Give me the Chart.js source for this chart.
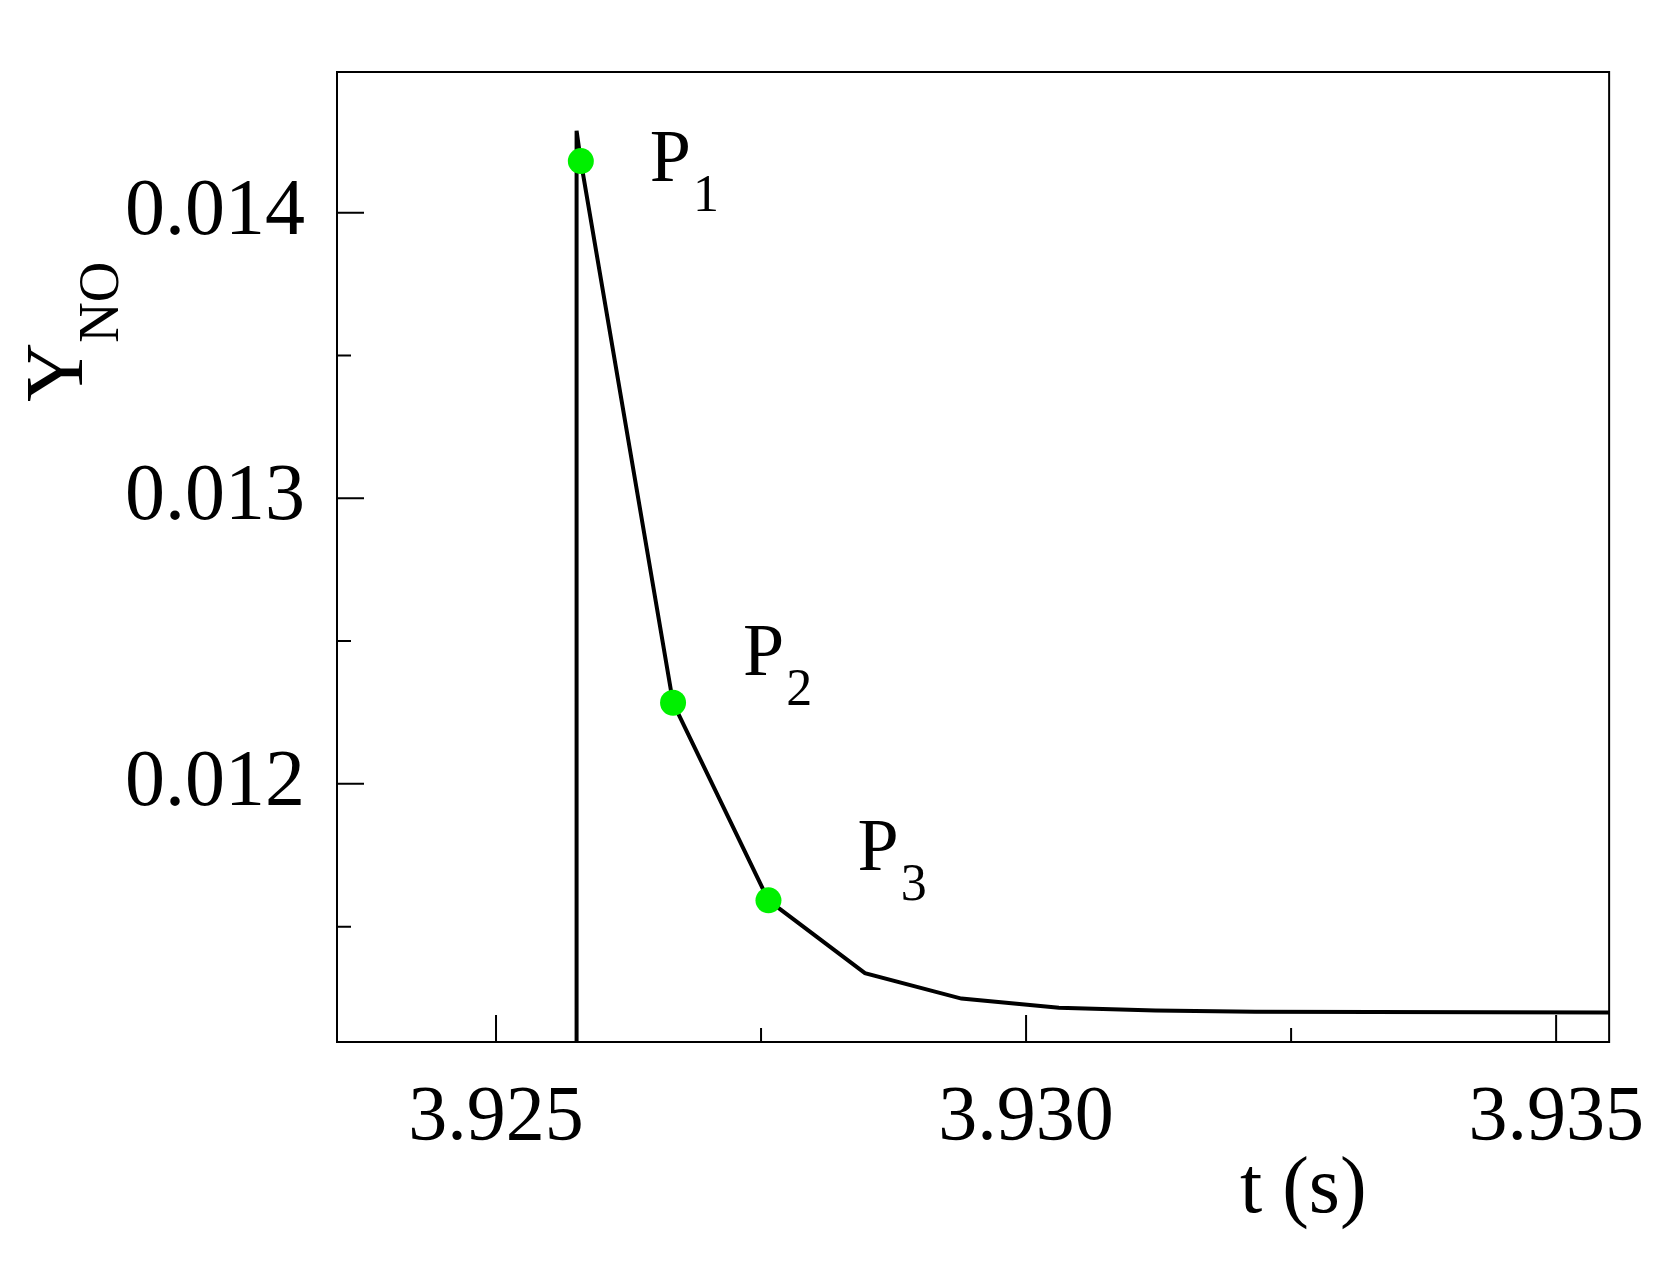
<!DOCTYPE html>
<html>
<head>
<meta charset="utf-8">
<script src="https://cdn.jsdelivr.net/npm/chart.js@4.4.1/dist/chart.umd.min.js"></script>
<style>
  html, body { margin: 0; padding: 0; background: #fff; }
  #wrap { width: 1668px; height: 1263px; }
  .pre { font-family: "Liberation Serif"; position: absolute; left: -999px; }
</style>
</head>
<body>
<span class="pre">P0123.</span>
<div id="wrap"><canvas id="ynoChart"></canvas></div>
<script>
// curve
const tValues = [3.92576, 3.92576, 3.9258, 3.92667, 3.92757, 3.92848, 3.92939, 3.93031, 3.93122, 3.93216, 3.9355];
const ynoValues = [0.0110, 0.014287, 0.014181, 0.012284, 0.011592, 0.011337, 0.011248, 0.011216, 0.011206, 0.011202, 0.011199];

// marked points
const markT = [3.9258, 3.92667, 3.92757];
const markY = [0.014181, 0.012284, 0.011592];
const markNames = ['1', '2', '3'];
const markLabelT = [3.92645, 3.92733, 3.92841];
const markLabelY = [0.01411, 0.012383, 0.011699];

const xTicks = [3.925, 3.930, 3.935];
const xMinor = [3.9275, 3.9325];
const yTicks = [0.012, 0.013, 0.014];
const yMinor = [0.0115, 0.0125, 0.0135];

const serif = "'Liberation Serif', Tinos, 'Times New Roman', Times, serif";

const framePlugin = {
  id: 'frame',
  afterDraw(chart) {
    const { ctx, chartArea: a, scales } = chart;
    const x = scales.x, y = scales.y;
    ctx.save();
    ctx.strokeStyle = '#000';
    ctx.lineWidth = 2;
    ctx.strokeRect(a.left, a.top, a.right - a.left, a.bottom - a.top);
    ctx.beginPath();
    xTicks.forEach(v => { const px = x.getPixelForValue(v); ctx.moveTo(px, a.bottom); ctx.lineTo(px, a.bottom - 27); });
    xMinor.forEach(v => { const px = x.getPixelForValue(v); ctx.moveTo(px, a.bottom); ctx.lineTo(px, a.bottom - 14); });
    yTicks.forEach(v => { const py = y.getPixelForValue(v); ctx.moveTo(a.left, py); ctx.lineTo(a.left + 27, py); });
    yMinor.forEach(v => { const py = y.getPixelForValue(v); ctx.moveTo(a.left, py); ctx.lineTo(a.left + 14, py); });
    ctx.stroke();

    // point labels
    ctx.fillStyle = '#000';
    ctx.textBaseline = 'alphabetic';
    ctx.textAlign = 'left';
    markNames.forEach((n, i) => {
      const px = x.getPixelForValue(markLabelT[i]);
      const py = y.getPixelForValue(markLabelY[i]);
      ctx.font = '74px ' + serif;
      ctx.fillText('P', px, py);
      const w = ctx.measureText('P').width;
      ctx.font = '52px ' + serif;
      ctx.fillText(n, px + w + 2, py + 30);
    });

    // axis titles
    ctx.font = '80px ' + serif;
    ctx.textAlign = 'left';
    ctx.fillText('t (s)', 1240, 1212);

    ctx.translate(82, 402);
    ctx.rotate(-Math.PI / 2);
    ctx.font = '82px ' + serif;
    ctx.fillText('Y', 0, 0);
    const yw = ctx.measureText('Y').width;
    ctx.font = '56px ' + serif;
    ctx.fillText('NO', yw, 36);
    ctx.restore();
  }
};

const chart = new Chart(document.getElementById('ynoChart'), {
  type: 'scatter',
  data: {
    datasets: [
      {
        data: markT.map((t, i) => ({ x: t, y: markY[i] })),
        showLine: false,
        pointRadius: 13,
        pointHoverRadius: 13,
        pointBackgroundColor: '#00f000',
        pointBorderWidth: 0,
        order: 0
      },
      {
        data: tValues.map((t, i) => ({ x: t, y: ynoValues[i] })),
        showLine: true,
        borderColor: '#000',
        borderWidth: 4,
        pointRadius: 0,
        tension: 0,
        order: 1
      }
    ]
  },
  options: {
    responsive: true,
    maintainAspectRatio: false,
    animation: false,
    devicePixelRatio: 1,
    layout: { padding: { top: -33, right: 51, left: 0, bottom: 0 } },
    plugins: { legend: { display: false }, tooltip: { enabled: false } },
    scales: {
      x: {
        type: 'linear',
        min: 3.9235,
        max: 3.9355,
        afterBuildTicks: s => { s.ticks = xTicks.map(v => ({ value: v })); },
        afterFit: s => { s.height = 221; },
        grid: { display: false },
        border: { display: false },
        ticks: {
          padding: 22,
          color: '#000',
          font: { family: serif, size: 78 },
          callback: v => v.toFixed(3)
        }
      },
      y: {
        type: 'linear',
        min: 0.011096,
        max: 0.014493,
        afterBuildTicks: s => { s.ticks = yTicks.map(v => ({ value: v })); },
        afterFit: s => { s.width = 337; },
        grid: { display: false },
        border: { display: false },
        ticks: {
          padding: 24,
          color: '#000',
          font: { family: serif, size: 80 },
          callback: v => v.toFixed(3)
        }
      }
    }
  },
  plugins: [framePlugin]
});
if (document.fonts) document.fonts.ready.then(() => chart.update());
</script>
</body>
</html>
